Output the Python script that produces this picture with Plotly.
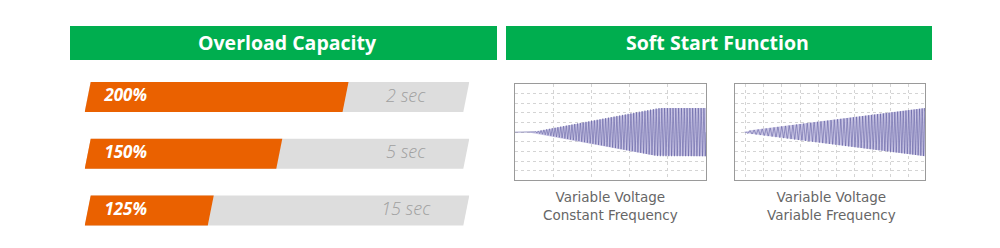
import numpy as np
import plotly.graph_objects as go

# ---------------- data ----------------
overload_labels = ["200%", "150%", "125%"]
overload_times = ["2 sec", "5 sec", "15 sec"]
overload_fill = [68.1, 50.6, 32.5]      # orange part, % of the grey track
track_full = [100, 100, 100]

headers = ["Overload Capacity", "Soft Start Function"]
captions = ["Variable Voltage<br>Constant Frequency", "Variable Voltage<br>Variable Frequency"]

# envelope break points (time 0..1, amplitude of +-1 scale)
vvcf_env_t = [0.0, 0.087, 0.75, 1.0]
vvcf_env_a = [0.0, 0.0, 0.5, 0.5]
vvcf_cycles = 68                       # constant carrier frequency (cycles per window)

vvvf_env_t = [0.05, 0.068, 1.0]
vvvf_env_a = [0.0, 0.03, 0.5]
vvvf_freq_t = [0.068, 1.0]
vvvf_freq = [45, 72]                   # instantaneous frequency (cycles per window)

# ---------------- style ----------------
ORANGE = "#EA6100"
GREY_TRACK = "#DDDDDD"
GREEN = "#00AE4F"
FONT = "Open Sans"
W, H = 1000, 248

fig = go.Figure()

# ---- overload bars (xaxis / yaxis) ----
px_per_unit = 378.6 / 100.0
slant = 6 / px_per_unit
row_px = 56.75
half_h = 15 / row_px


def para(i, v):
    return ([0, v, v + slant, slant, 0],
            [i + half_h, i + half_h, i - half_h, i - half_h, i + half_h])


for i, v in enumerate(track_full):
    xs, ys = para(i, v)
    fig.add_trace(go.Scatter(x=xs, y=ys, fill="toself", fillcolor=GREY_TRACK,
                             line=dict(width=0), mode="lines", hoverinfo="skip",
                             xaxis="x", yaxis="y", showlegend=False))
for i, v in enumerate(overload_fill):
    xs, ys = para(i, v)
    fig.add_trace(go.Scatter(x=xs, y=ys, fill="toself", fillcolor=ORANGE,
                             line=dict(width=0), mode="lines", hoverinfo="skip",
                             xaxis="x", yaxis="y", showlegend=False))

idx = list(range(len(overload_labels)))
fig.add_trace(go.Scatter(x=[5.2] * len(idx), y=idx, text=overload_labels, mode="text",
                         textposition="middle right",
                         textfont=dict(family=FONT, size=17, color="white", weight="bold",
                                       style="italic"),
                         xaxis="x", yaxis="y", showlegend=False, hoverinfo="skip"))
fig.add_trace(go.Scatter(x=[84.8] * len(idx), y=idx, text=overload_times, mode="text",
                         textposition="middle center",
                         textfont=dict(family=FONT, size=18, color="#A0A0A0", style="italic",
                                       weight=300),
                         xaxis="x", yaxis="y", showlegend=False, hoverinfo="skip"))

# ---- soft start waveforms ----
def wave(env_t, env_a, phase_fn, n=8000):
    t = np.linspace(env_t[0], 1.0, n)
    a = np.interp(t, env_t, env_a)
    return t, a, a * np.sin(phase_fn(t))


t1, a1, y1 = wave(vvcf_env_t, vvcf_env_a, lambda t: 2 * np.pi * vvcf_cycles * t)


def chirp_phase(t):
    f = np.interp(t, vvvf_freq_t, vvvf_freq)
    dt = np.diff(t, prepend=t[0])
    return 2 * np.pi * np.cumsum(f * dt)


t2, a2, y2 = wave(vvvf_env_t, vvvf_env_a, chirp_phase)

for (t, a, y, xa, ya) in [(t1, a1, y1, "x2", "y2"), (t2, a2, y2, "x3", "y3")]:
    fig.add_trace(go.Scatter(x=np.concatenate([t, t[::-1]]),
                             y=np.concatenate([a, -a[::-1]]),
                             fill="toself", fillcolor="rgba(196,192,226,0.9)",
                             line=dict(width=0), mode="lines", hoverinfo="skip",
                             xaxis=xa, yaxis=ya, showlegend=False))
    fig.add_trace(go.Scatter(x=t, y=y, mode="lines",
                             line=dict(color="rgba(86,84,156,0.75)", width=0.7),
                             hoverinfo="skip", xaxis=xa, yaxis=ya, showlegend=False))

# ---------------- layout ----------------
ytop, ybot = 84, 180.3
ydom = [1 - ybot / H, 1 - ytop / H]

grid = dict(showgrid=True, gridcolor="#D4D4D4", griddash="dot", gridwidth=1,
            showticklabels=False, ticks="", zeroline=False,
            showline=True, linecolor="#9A9A9A", linewidth=1, mirror=True,
            fixedrange=True)

layout = dict(
    width=W, height=H, margin=dict(l=0, r=0, t=0, b=0),
    paper_bgcolor="white", plot_bgcolor="rgba(0,0,0,0)",
    showlegend=False,
    xaxis=dict(domain=[84.7 / W, (463.3 + 6) / W], range=[0, 100 + slant],
               visible=False, fixedrange=True),
    yaxis=dict(domain=[0, 1], range=[-97 / row_px + H / row_px, -97 / row_px],
               visible=False, fixedrange=True),
    xaxis2=dict(domain=[515 / W, 706 / W], range=[0, 1], dtick=0.2, tick0=0,
                anchor="y2", **grid),
    yaxis2=dict(domain=ydom, range=[-1, 1], dtick=0.2, tick0=0, anchor="x2", **grid),
    xaxis3=dict(domain=[735 / W, 925 / W], range=[0, 1], dtick=0.0955, tick0=0.056,
                anchor="y3", **grid),
    yaxis3=dict(domain=ydom, range=[-1, 1], dtick=0.2, tick0=0, anchor="x3", **grid),
)
fig.update_layout(**layout)

# header bands
for (x0, x1), txt, tx in zip([(70, 497), (506, 932)], headers, [287, 717]):
    fig.add_shape(type="rect", xref="paper", yref="paper",
                  x0=x0 / W, x1=x1 / W, y0=1 - 60 / H, y1=1 - 26 / H,
                  fillcolor=GREEN, line=dict(width=0), layer="below")
    fig.add_annotation(xref="paper", yref="paper", x=tx / W, y=1 - 43 / H,
                       text=txt, showarrow=False, xanchor="center", yanchor="middle",
                       font=dict(family=FONT, size=19.5, color="white", weight="bold"))

for cx, cap in zip([610, 831], captions):
    fig.add_annotation(xref="paper", yref="paper", x=cx / W, y=1 - 206 / H,
                       text=cap, showarrow=False, xanchor="center", yanchor="middle",
                       font=dict(family="DejaVu Sans", size=13.5, color="#666666"))

fig.write_html("out.html")
